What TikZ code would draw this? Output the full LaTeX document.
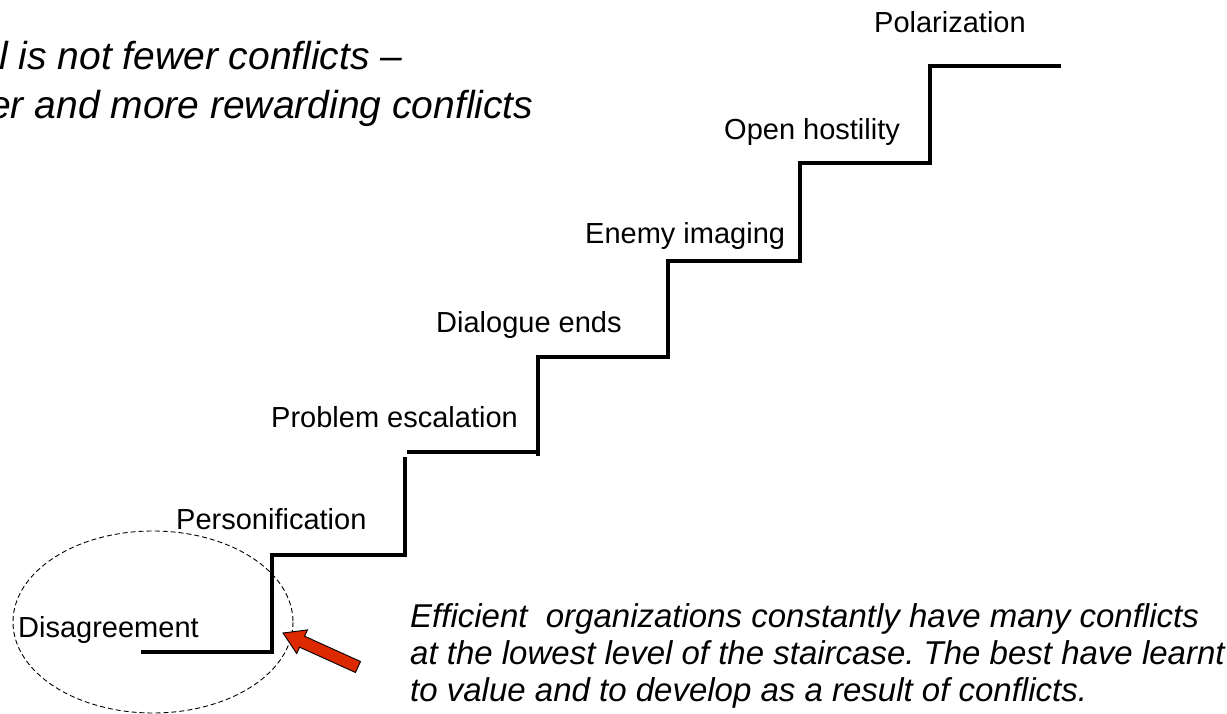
\documentclass[tikz,border=0pt]{standalone}
\usepackage{fontspec}
\setmainfont{Liberation Sans}
\frenchspacing
\definecolor{arrowred}{RGB}{221,41,0}
\tikzset{
  stair/.style={line width=3.1pt, black, line join=miter},
  steplabel/.style={anchor=base west, inner sep=0pt, font=\fontsize{29}{34}\selectfont},
  headline/.style={anchor=base west, inner sep=0pt, font=\fontsize{39}{47}\selectfont\itshape},
  noteline/.style={anchor=base west, inner sep=0pt, font=\fontsize{33}{38}\selectfont\itshape},
  focus/.style={draw=black, line width=0.9pt, dash pattern=on 5pt off 3pt},
  pointer/.style={fill=arrowred, draw=black, line width=0.9pt, line join=miter}
}
\begin{document}
\begin{tikzpicture}[x=1pt, y=-1pt]
  \clip (0,0) rectangle (1227,714);
  \fill[white] (0,0) rectangle (1227,714);

  % heading, running off the left edge
  \node[headline] (head1) at (-1,70) {l is not fewer conflicts –};
  \node[headline] (head2) at (-11,119) {er and more rewarding conflicts};

  % the staircase
  \draw[stair] (141,652) -- (272,652) -- (272,555) -- (405,555) -- (405,457);
  \draw[stair] (407,452) -- (538,452);
  \draw[stair] (538,456) -- (538,357) -- (668,357) -- (668,261) -- (800,261)
               -- (800,163) -- (930,163) -- (930,66) -- (1061,66);

  % step labels
  \node[steplabel] (s1) at (18,637)  {Disagreement};
  \node[steplabel] (s2) at (176,529) {Personification};
  \node[steplabel] (s3) at (271,427) {Problem escalation};
  \node[steplabel] (s4) at (436,332) {Dialogue ends};
  \node[steplabel] (s5) at (585,244) {Enemy imaging};
  \node[steplabel] (s6) at (724,140) {Open hostility};
  \node[steplabel] (s7) at (874,33)  {Polarization};

  % dashed ring round the lowest step
  \draw[focus] (153,622) ellipse [x radius=140, y radius=91];

  % block arrow pointing at the ring
  \draw[pointer] (360.5,661.5) -- (304.6,636.2) -- (307.5,629.9) -- (283,633)
                 -- (296.7,653.5) -- (299.6,647.2) -- (355.5,672.5) -- cycle;

  % note
  \node[noteline] (note1) at (410,627) {Efficient\ \ organizations constantly have many conflicts};
  \node[noteline] (note2) at (410,664) {at the lowest level of the staircase. The best have learnt};
  \node[noteline] (note3) at (410,701) {to value and to develop as a result of conflicts.};
\end{tikzpicture}
\end{document}
